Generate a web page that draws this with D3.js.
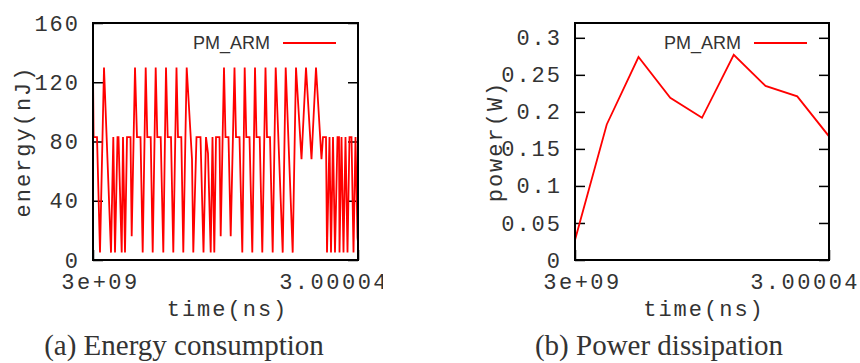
<!DOCTYPE html>
<html>
<head>
<meta charset="utf-8">
<script src="https://cdn.jsdelivr.net/npm/d3@7"></script>
<style>
  body { margin: 0; background: #fff; }
  text { fill: #333; }
</style>
</head>
<body>
<svg id="chart" width="860" height="363"></svg>
<script>
// time values are ns after 3e9
const energyTime = [0, 90, 604, 1057, 1660, 2717, 3064, 3321, 3698, 3849, 4332, 4528, 4830, 5132, 5660, 5841,
  6340, 6640, 7170, 7500, 7955, 8196, 8709, 9011, 9464, 9705, 10219, 10611, 11019, 11275, 11773, 12120,
  12603, 12830, 13328, 13630, 14143, 14943, 15139, 15622, 16226, 16679, 17056, 17358, 17766, 18038, 18309,
  18566, 19094, 19275, 19773, 20000, 20453, 20785, 21358, 21585, 22113, 22536, 22898, 23140, 23623, 24045,
  24453, 24679, 25162, 25554, 26037, 26264, 26717, 27124, 27577, 28634, 29087, 30143, 30642, 31472, 32151,
  32981, 33660, 34490, 34717, 35170, 35321, 35698, 35925, 36226, 36528, 36906, 37132, 37208, 37510, 37811,
  38113, 38415, 38717, 39019, 39321, 39623, 39925, 40000];
const energyNJ = [126, 83, 83, 5, 130, 5, 83, 5, 83, 83, 5, 83, 5, 83, 83, 16,
  130, 83, 83, 5, 130, 83, 83, 5, 130, 83, 83, 5, 130, 83, 83, 5,
  130, 83, 83, 5, 130, 68, 5, 83, 83, 5, 83, 72, 5, 83, 5,
  83, 83, 16, 130, 83, 83, 16, 130, 83, 83, 5, 130, 83, 83, 5,
  130, 83, 83, 5, 130, 83, 83, 5, 130, 5, 130, 5, 130, 68, 130,
  68, 130, 68, 83, 83, 5, 83, 5, 83, 5, 83, 83, 5, 83, 5,
  83, 5, 83, 83, 5, 83, 15, 12];

const powerTime = [0, 5000, 10000, 15000, 20000, 25000, 30000, 35000, 40000];
const powerW = [0.027, 0.183, 0.274, 0.219, 0.192, 0.277, 0.235, 0.221, 0.167];

const energyTicks = [0, 40, 80, 120, 160];
const powerTicks = [0, 0.05, 0.1, 0.15, 0.2, 0.25, 0.3];
const timeTicks = [0, 40000];
const timeTickLabels = ["3e+09", "3.00004e+09"];
const seriesName = "PM_ARM";

const svg = d3.select("#chart");
svg.append("rect").attr("width", 860).attr("height", 363).attr("fill", "#fff");

const monoFont = "'Liberation Mono', 'DejaVu Sans Mono', monospace";

function drawPanel(p) {
  const g = svg.append("g").attr("clip-path", `url(#${p.id}-clip)`);
  svg.append("clipPath").attr("id", p.id + "-clip")
    .append("rect").attr("x", p.clipX0).attr("y", 0).attr("width", p.clipX1 - p.clipX0).attr("height", 363);

  const x = d3.scaleLinear().domain([0, 40000]).range([p.x0, p.x1]);
  const y = d3.scaleLinear().domain(p.yDomain).range([p.y1, p.y0]);

  // y axis left with inward ticks
  const yAxis = g.append("g").attr("transform", `translate(${p.x0},0)`)
    .call(d3.axisLeft(y).tickValues(p.yTicks).tickSize(-10).tickPadding(13).tickFormat(d => String(d)));
  yAxis.select(".domain").remove();
  yAxis.selectAll("line").attr("stroke", "#000").attr("stroke-width", 1.5);
  yAxis.selectAll("text").style("font-family", monoFont).style("font-size", "22px")
    .style("letter-spacing", "2px").attr("fill", "#333");

  const yAxisR = g.append("g").attr("transform", `translate(${p.x1},0)`)
    .call(d3.axisRight(y).tickValues(p.yTicks).tickSize(-10).tickFormat(""));
  yAxisR.select(".domain").remove();
  yAxisR.selectAll("line").attr("stroke", "#000").attr("stroke-width", 1.5);

  const xAxis = g.append("g").attr("transform", `translate(0,${p.y1})`)
    .call(d3.axisBottom(x).tickValues(timeTicks).tickSize(-10).tickPadding(13)
      .tickFormat((d, i) => timeTickLabels[i]));
  xAxis.select(".domain").remove();
  xAxis.selectAll("line").attr("stroke", "#000").attr("stroke-width", 1.5);
  xAxis.selectAll("text").style("font-family", monoFont).style("font-size", "22px")
    .style("letter-spacing", "2.5px").attr("dx", 7).attr("fill", "#333");

  // data line
  const plotClip = p.id + "-plot";
  svg.append("clipPath").attr("id", plotClip)
    .append("rect").attr("x", p.x0).attr("y", p.y0).attr("width", p.x1 - p.x0).attr("height", p.y1 - p.y0);
  const line = d3.line().x(d => x(d[0])).y(d => y(d[1]));
  g.append("path")
    .datum(p.times.map((t, i) => [t, p.values[i]]))
    .attr("clip-path", `url(#${plotClip})`)
    .attr("d", line)
    .attr("fill", "none")
    .attr("stroke", "#ff0000")
    .attr("stroke-width", 1.8)
    .attr("stroke-linejoin", "miter");

  // frame
  g.append("rect").attr("x", p.x0).attr("y", p.y0)
    .attr("width", p.x1 - p.x0).attr("height", p.y1 - p.y0)
    .attr("fill", "none").attr("stroke", "#000").attr("stroke-width", 2);

  // legend
  g.append("text").attr("x", p.x1 - 88).attr("y", p.y0 + 26)
    .attr("text-anchor", "end")
    .style("font-family", "'Liberation Sans', Arial, sans-serif").style("font-size", "18px")
    .attr("fill", "#111")
    .text(seriesName);
  g.append("line").attr("x1", p.x1 - 75).attr("x2", p.x1 - 22)
    .attr("y1", p.y0 + 20).attr("y2", p.y0 + 20)
    .attr("stroke", "#ff0000").attr("stroke-width", 1.8);

  // axis titles
  g.append("text")
    .attr("transform", `translate(${p.yTitleX},${(p.y0 + p.y1) / 2}) rotate(-90)`)
    .attr("text-anchor", "middle")
    .style("font-family", monoFont).style("font-size", "22px").style("letter-spacing", "2px")
    .text(p.yTitle);
  g.append("text")
    .attr("x", (p.x0 + p.x1) / 2 + 2).attr("y", 316)
    .attr("text-anchor", "middle")
    .style("font-family", monoFont).style("font-size", "22px").style("letter-spacing", "2px")
    .text("time(ns)");

  // caption
  svg.append("text")
    .attr("x", p.captionX).attr("y", 355)
    .attr("text-anchor", "middle")
    .style("font-family", "'Liberation Serif', 'DejaVu Serif', serif").style("font-size", "29px")
    .attr("fill", "#000")
    .text(p.caption);
}

drawPanel({
  id: "energy", x0: 93, x1: 358, y0: 23, y1: 260, clipX0: 0, clipX1: 383,
  yDomain: [0, 160], yTicks: energyTicks, times: energyTime, values: energyNJ,
  yTitle: "energy(nJ)", yTitleX: 30, caption: "(a) Energy consumption", captionX: 184
});

drawPanel({
  id: "power", x0: 575, x1: 829, y0: 23, y1: 260, clipX0: 383, clipX1: 860,
  yDomain: [0, 0.32], yTicks: powerTicks, times: powerTime, values: powerW,
  yTitle: "power(W)", yTitleX: 502, caption: "(b) Power dissipation", captionX: 659
});
</script>
</body>
</html>
